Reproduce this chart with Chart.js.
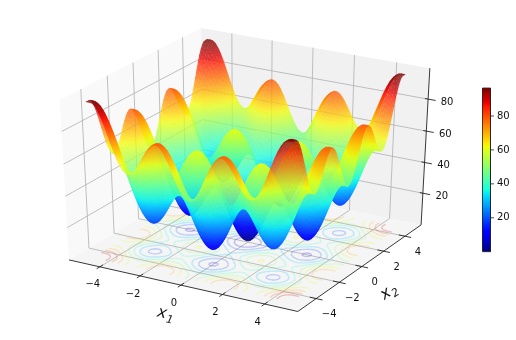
<!DOCTYPE html>
<html><head><meta charset="utf-8"><style>html,body{margin:0;padding:0;background:#fff}canvas{display:block}</style>
<script src="https://cdn.jsdelivr.net/npm/chart.js@4"></script></head><body>
<canvas id="c" width="516" height="340"></canvas>
<script>
// Height profile, centre to edge, at the positions in profilePositions.
// The surface height of a cell is the profile at x1 plus the profile at x2.
const heightProfile=[0,.49,1.94,4.24,7.25,10.77,14.56,18.39,22,25.17,27.69,29.41,30.25,30.16,29.19,27.42,25,22.14,19.06,16.02,13.25,10.99,9.44,8.74,9,10.24,12.44,15.49,19.25,23.52,28.06,32.64,37,40.92,44.18,46.66,48,48.3,48.25,48.2];
const profilePositions=[0,.125,.25,.375,.5,.625,.75,.875,1,1.125,1.25,1.375,1.5,1.625,1.75,1.875,2,2.125,2.25,2.375,2.5,2.625,2.75,2.875,3,3.125,3.25,3.375,3.5,3.625,3.75,3.875,4,4.125,4.25,4.375,4.5,4.625,4.75,4.8];
const x1Ticks=[-4,-2,0,2,4];
const x2Ticks=[-4,-2,0,2,4];
const zTicks=[20,40,60,80];
const colorbarTicks=[20,40,60,80];
const contourLevels=[10,20,30,40,50,60,70,80,90];
const zMin=0,zMax=96.5;
const L=5.55,zlo=-1,zhi=99;

const W=516,H=340;
const kx=2641,ox=247.8,ky=1828,oy=164.9;
const gctx=document.getElementById('c').getContext('2d');
function depthOf(a,b,c){const u=(a+L)/(2*L)-.5,v=(b+L)/(2*L)-.5,w=(c-zlo)/(zhi-zlo)-.5;return 10-(.433*u-.75*v+.5*w);}
function proj(a,b,c){
  const u=(a+L)/(2*L)-.5,v=(b+L)/(2*L)-.5,w=(c-zlo)/(zhi-zlo)-.5;
  const xv=.866*u+.5*v,yv=-.25*u+.433*v+.866*w,d=10-(.433*u-.75*v+.5*w);
  return {x:ox+kx*xv/d,y:oy-ky*yv/d};
}
function lerp(t,p){for(let i=1;i<p.length;i++){if(t<=p[i][0]){const[a,b]=p[i-1],[c,d]=p[i];return b+(d-b)*(t-a)/(c-a);}}return p[p.length-1][1];}
function jet(v,alpha){
  const t=Math.min(1,Math.max(0,(v-zMin)/(zMax-zMin)));
  const r=lerp(t,[[0,0],[.35,0],[.66,1],[.89,1],[1,.5]]);
  const g=lerp(t,[[0,0],[.125,0],[.375,1],[.64,1],[.91,0],[1,0]]);
  const b=lerp(t,[[0,.5],[.11,1],[.34,1],[.65,0],[1,0]]);
  return `rgba(${Math.round(r*255)},${Math.round(g*255)},${Math.round(b*255)},${alpha})`;
}
const ds=[];
function poly(pts,fill,edge){ds.push({data:pts,fill:'shape',backgroundColor:fill,borderColor:fill,borderWidth:edge||0});}
function path(pts,color,w,cap){ds.push({data:pts,fill:false,borderColor:color,borderWidth:w,borderCapStyle:cap||'butt',spanGaps:false});}
// panes
poly([proj(-L,-L,zlo),proj(-L,L,zlo),proj(-L,L,zhi),proj(-L,-L,zhi)],'#f9f9f9');
poly([proj(-L,L,zlo),proj(L,L,zlo),proj(L,L,zhi),proj(-L,L,zhi)],'#f1f1f1');
poly([proj(-L,-L,zlo),proj(L,-L,zlo),proj(L,L,zlo),proj(-L,L,zlo)],'#f5f5f5');
// grid
const gc='#b0b0b0';
x1Ticks.forEach(t=>path([proj(t,-L,zlo),proj(t,L,zlo),proj(t,L,zhi)],gc,.8));
x2Ticks.forEach(t=>path([proj(L,t,zlo),proj(-L,t,zlo),proj(-L,t,zhi)],gc,.8));
zTicks.forEach(t=>path([proj(-L,-L,t),proj(-L,L,t),proj(L,L,t)],gc,.8));
// axis lines & ticks
path([proj(-L,-L,zlo),proj(L,-L,zlo),proj(L,L,zlo),proj(L,L,zhi)],'#222',.9);
x1Ticks.forEach(t=>path([proj(t,-L+.25,zlo),proj(t,-L-.25,zlo)],'#222',.9));
x2Ticks.forEach(t=>path([proj(L-.3,t,zlo),proj(L+.3,t,zlo)],'#222',.9));
zTicks.forEach(t=>path([proj(L-.15,L,t),proj(L+.35,L,t)],'#222',.9));
// height grid
const prof=heightProfile.slice(1).reverse().concat(heightProfile);
const xs=profilePositions.slice(1).reverse().map(v=>-v).concat(profilePositions);
const n=prof.length;
// contours on the floor
contourLevels.forEach(lv=>{
  const pts=[];
  for(let i=0;i<n-1;i++)for(let j=0;j<n-1;j++){
    const c=[[i,j],[i+1,j],[i+1,j+1],[i,j+1]].map(([a,b])=>({a:xs[a],b:xs[b],z:prof[a]+prof[b]}));
    const cross=[];
    for(let e=0;e<4;e++){const p=c[e],q=c[(e+1)%4];
      if((p.z<lv)!==(q.z<lv)){const t=(lv-p.z)/(q.z-p.z);cross.push(proj(p.a+(q.a-p.a)*t,p.b+(q.b-p.b)*t,zlo));}}
    for(let k=0;k+1<cross.length;k+=2){pts.push(cross[k],cross[k+1],{x:NaN,y:NaN});}
  }
  path(pts,jet(lv,.22),1.4,'round');
});
// surface cells, back to front; each cell shades from its lowest to its highest corner
const cells=[];
for(let i=0;i<n-1;i++)for(let j=0;j<n-1;j++){
  const q=[[i,j],[i+1,j],[i+1,j+1],[i,j+1]].map(([a,b])=>[xs[a],xs[b],prof[a]+prof[b]]);
  const dp=q.reduce((s,p)=>s+depthOf(p[0],p[1],p[2]),0)/4;
  cells.push({q,dp});
}
cells.sort((a,b)=>b.dp-a.dp);
const surfaceAlpha=.76;
cells.forEach(c=>{
  const lo=c.q.reduce((m,p)=>p[2]<m[2]?p:m),hi=c.q.reduce((m,p)=>p[2]>m[2]?p:m);
  const a=proj(lo[0],lo[1],lo[2]),b=proj(hi[0],hi[1],hi[2]);
  const g=gctx.createLinearGradient(a.x,a.y,b.x,b.y);
  g.addColorStop(0,jet(lo[2],surfaceAlpha));
  g.addColorStop(.5,jet((lo[2]+hi[2])/2,surfaceAlpha));
  g.addColorStop(1,jet(hi[2],surfaceAlpha));
  poly(c.q.map(p=>proj(p[0],p[1],p[2])),g,.3);
});
// colorbar: each band runs to the top of the bar and the next one paints over it
const cbL=482.5,cbR=490.5,cbT=88,cbB=251.7;
const cy=v=>cbB-(v-zMin)/(zMax-zMin)*(cbB-cbT);
const bands=128;
for(let i=0;i<bands;i++){
  const a=zMin+(zMax-zMin)*i/bands,b=zMin+(zMax-zMin)*(i+1)/bands;
  poly([{x:cbL,y:cy(a)},{x:cbR,y:cy(a)},{x:cbR,y:cbT},{x:cbL,y:cbT}],jet((a+b)/2,1));
}
path([{x:cbL,y:cbT},{x:cbR,y:cbT},{x:cbR,y:cbB},{x:cbL,y:cbB},{x:cbL,y:cbT}],'#222',.8);
colorbarTicks.forEach(t=>path([{x:cbR,y:cy(t)},{x:cbR+3.5,y:cy(t)}],'#222',.8));

const labels={id:'labels',afterDraw(ch){
  const c=ch.ctx,sx=ch.scales.x,sy=ch.scales.y;
  const px=p=>[sx.getPixelForValue(p.x),sy.getPixelForValue(p.y)];
  c.save();c.fillStyle='#111';c.font='10px "DejaVu Sans"';c.textAlign='center';c.textBaseline='middle';
  const fmt=t=>t<0?'\u2212'+(-t):''+t;
  x1Ticks.forEach(t=>{const[a,b]=px(proj(t,-L,zlo));c.fillText(fmt(t),a-7,b+18);});
  x2Ticks.forEach(t=>{const[a,b]=px(proj(L,t,zlo));c.fillText(fmt(t),a+13,b+16);});
  zTicks.forEach(t=>{const[a,b]=px(proj(L,L,t));c.fillText(fmt(t),a+19,b+3);});
  colorbarTicks.forEach(t=>{c.textAlign='left';const[a,b]=px({x:cbR+6.5,y:cy(t)});c.fillText(fmt(t),a,b);});
  const title=(x,y,rot,sub)=>{c.save();c.translate(x,y);c.rotate(rot);c.textAlign='left';
    c.font='italic 16px "DejaVu Sans"';c.fillText('x',-8,-1);
    c.font='italic 11px "DejaVu Sans"';c.fillText(sub,2,4);c.restore();};
  title(165,315,.22,'1');
  title(389,293,-.6,'2');
  c.restore();
}};
new Chart(document.getElementById('c'),{type:'line',data:{datasets:ds.reverse()},plugins:[labels],
 options:{responsive:false,animation:false,events:[],layout:{padding:0},
  elements:{point:{radius:0}},
  plugins:{legend:{display:false},tooltip:{enabled:false},title:{display:false}},
  scales:{x:{type:'linear',display:false,min:0,max:W},y:{type:'linear',display:false,min:0,max:H,reverse:true}}}});
</script></body></html>
